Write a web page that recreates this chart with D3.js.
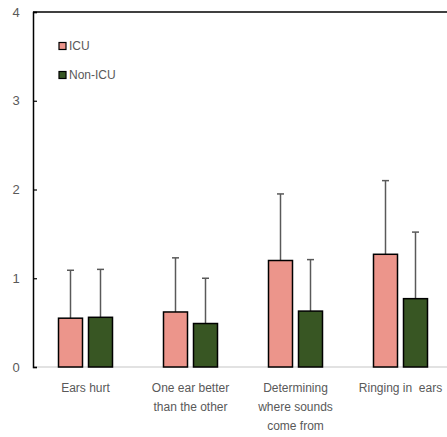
<!DOCTYPE html>
<html>
<head>
<meta charset="utf-8">
<script src="https://cdn.jsdelivr.net/npm/d3@7"></script>
<style>
  body { margin: 0; background: #fff; }
  text { font-family: "Liberation Sans", Arial, sans-serif; white-space: pre; }
</style>
</head>
<body>
<div id="chart"></div>
<script>
const categories = [
  ["Ears hurt"],
  ["One ear better", "than the other"],
  ["Determining", "where sounds", "come from"],
  ["Ringing in  ears"]
];
const seriesNames = ["ICU", "Non-ICU"];
const icuValues = [0.55, 0.62, 1.20, 1.27];
const icuErrors = [0.54, 0.61, 0.75, 0.83];
const nonIcuValues = [0.56, 0.49, 0.63, 0.77];
const nonIcuErrors = [0.54, 0.51, 0.58, 0.75];
const yTicks = [0, 1, 2, 3, 4];

const colors = ["#ec958b", "#385623"];
const width = 447, height = 437;
const margin = { top: 12, left: 33, bottom: 70 };

const svg = d3.select("#chart").append("svg")
  .attr("width", width)
  .attr("height", height);

const x = d3.scaleBand()
  .domain(d3.range(categories.length))
  .range([margin.left, margin.left + 420]);

const y = d3.scaleLinear()
  .domain([0, 4])
  .range([height - margin.bottom, margin.top]);

const x1 = d3.scaleBand()
  .domain(d3.range(seriesNames.length))
  .range([x.bandwidth() / 2 - 27, x.bandwidth() / 2 + 27])
  .paddingInner(0.2);

const data = categories.map((c, i) => [
  { v: icuValues[i], e: icuErrors[i], s: 0 },
  { v: nonIcuValues[i], e: nonIcuErrors[i], s: 1 }
]);

// baseline
svg.append("line")
  .attr("x1", margin.left).attr("x2", width)
  .attr("y1", y(0)).attr("y2", y(0))
  .attr("stroke", "#d9d9d9").attr("stroke-width", 1.5);

// top border
svg.append("line")
  .attr("x1", margin.left).attr("x2", width)
  .attr("y1", y(4)).attr("y2", y(4))
  .attr("stroke", "#000").attr("stroke-width", 1.5);

// y axis
const yAxis = svg.append("g")
  .attr("transform", "translate(" + margin.left + ",0)")
  .call(d3.axisRight(y).tickValues(yTicks).tickSize(4).tickFormat(""));
yAxis.select(".domain").attr("stroke", "#000").attr("stroke-width", 1.5);
yAxis.selectAll(".tick line").attr("stroke", "#000").attr("stroke-width", 1.2);

svg.append("g").selectAll("text")
  .data(yTicks)
  .join("text")
  .attr("x", 16)
  .attr("y", d => y(d))
  .attr("dy", "0.35em")
  .attr("text-anchor", "middle")
  .attr("fill", "#595959")
  .attr("font-size", 13)
  .text(d => d);

const groups = svg.append("g").selectAll("g")
  .data(data)
  .join("g")
  .attr("transform", (d, i) => "translate(" + x(i) + ",0)");

// error bars
groups.selectAll(".err")
  .data(d => d)
  .join("g")
  .attr("class", "err")
  .each(function(d) {
    const g = d3.select(this);
    const cx = x1(d.s) + x1.bandwidth() / 2;
    g.append("line")
      .attr("x1", cx).attr("x2", cx)
      .attr("y1", y(d.v)).attr("y2", y(d.v + d.e))
      .attr("stroke", "#595959").attr("stroke-width", 1.5);
    g.append("line")
      .attr("x1", cx - 3.5).attr("x2", cx + 3.5)
      .attr("y1", y(d.v + d.e)).attr("y2", y(d.v + d.e))
      .attr("stroke", "#595959").attr("stroke-width", 1.5);
  });

groups.selectAll("rect")
  .data(d => d)
  .join("rect")
  .attr("x", d => x1(d.s))
  .attr("y", d => y(d.v))
  .attr("width", x1.bandwidth())
  .attr("height", d => y(0) - y(d.v))
  .attr("fill", d => colors[d.s])
  .attr("stroke", "#000")
  .attr("stroke-width", 1.5);

// category labels
svg.append("g").selectAll("text")
  .data(categories)
  .join("text")
  .attr("text-anchor", "middle")
  .attr("fill", "#595959")
  .attr("font-size", 12)
  .each(function(lines, i) {
    d3.select(this).selectAll("tspan")
      .data(lines)
      .join("tspan")
      .attr("x", x(i) + x.bandwidth() / 2)
      .attr("y", (l, j) => 392 + j * 19)
      .text(l => l);
  });

// legend
const legend = svg.append("g").selectAll("g")
  .data(seriesNames)
  .join("g")
  .attr("transform", (d, i) => "translate(59," + (46 + i * 29) + ")");
legend.append("rect")
  .attr("x", 0).attr("y", -3.5)
  .attr("width", 7).attr("height", 7)
  .attr("fill", (d, i) => colors[i])
  .attr("stroke", "#000").attr("stroke-width", 1.2);
legend.append("text")
  .attr("x", 10).attr("y", 0)
  .attr("dy", "0.35em")
  .attr("fill", "#595959")
  .attr("font-size", 12)
  .text(d => d);
</script>
</body>
</html>
